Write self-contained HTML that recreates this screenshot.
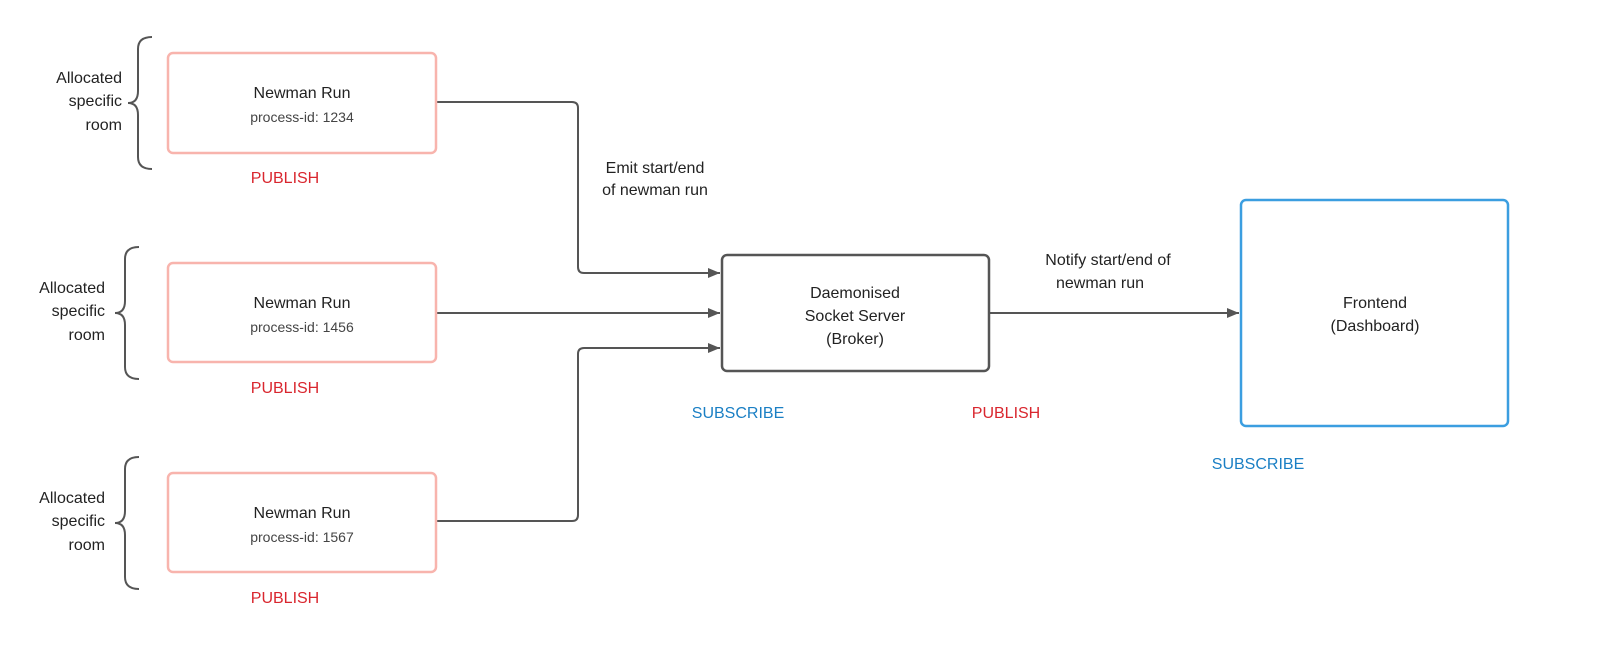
<!DOCTYPE html>
<html><head><style>
body{margin:0;background:#fff;}
svg text{font-family:"Liberation Sans",sans-serif;font-size:16px;fill:#222;}
</style></head><body>
<svg width="1600" height="654" xmlns="http://www.w3.org/2000/svg">
<defs><marker id="a" markerWidth="12" markerHeight="10" refX="12" refY="5" orient="auto" markerUnits="userSpaceOnUse"><path d="M0,0 L12,5 L0,10z" fill="#555"/></marker></defs>
<g fill="none" stroke="#555" stroke-width="2">
<path d="M152,37 q-14,0 -14,12 v42 q0,12 -10,12 q10,0 10,12 v42 q0,12 14,12"/>
<path d="M139,247 q-14,0 -14,12 v42 q0,12 -10,12 q10,0 10,12 v42 q0,12 14,12"/>
<path d="M139,457 q-14,0 -14,12 v42 q0,12 -10,12 q10,0 10,12 v42 q0,12 14,12"/>
<path d="M437,102 H572 q6,0 6,6 V267 q0,6 6,6 H720" marker-end="url(#a)"/>
<path d="M437,313 H720" marker-end="url(#a)"/>
<path d="M437,521 H572 q6,0 6,-6 V354 q0,-6 6,-6 H720" marker-end="url(#a)"/>
<path d="M990,313 H1239" marker-end="url(#a)"/>
</g>
<g fill="#fff" stroke="#f8b4ad" stroke-width="2.5">
<rect x="168" y="53" width="268" height="100" rx="5"/>
<rect x="168" y="263" width="268" height="99" rx="5"/>
<rect x="168" y="473" width="268" height="99" rx="5"/>
</g>
<rect x="722" y="255" width="267" height="116" rx="5" fill="#fff" stroke="#555" stroke-width="2.5"/>
<rect x="1241" y="200" width="267" height="226" rx="5" fill="#fff" stroke="#3b9ee0" stroke-width="2.5"/>
<g text-anchor="middle">
<text x="302" y="98">Newman Run</text><text x="302" y="122" style="font-size:14px;fill:#444">process-id: 1234</text>
<text x="302" y="308">Newman Run</text><text x="302" y="332" style="font-size:14px;fill:#444">process-id: 1456</text>
<text x="302" y="518">Newman Run</text><text x="302" y="542" style="font-size:14px;fill:#444">process-id: 1567</text>
<text x="855" y="298">Daemonised</text><text x="855" y="321">Socket Server</text><text x="855" y="344">(Broker)</text>
<text x="1375" y="308">Frontend</text><text x="1375" y="331">(Dashboard)</text>
<text x="285" y="183" style="fill:#d9262e">PUBLISH</text>
<text x="285" y="393" style="fill:#d9262e">PUBLISH</text>
<text x="285" y="603" style="fill:#d9262e">PUBLISH</text>
<text x="738" y="418" style="fill:#1a7fc4">SUBSCRIBE</text>
<text x="1006" y="418" style="fill:#d9262e">PUBLISH</text>
<text x="1258" y="469" style="fill:#1a7fc4">SUBSCRIBE</text>
<text x="655" y="173">Emit start/end</text><text x="655" y="195">of newman run</text>
<text x="1108" y="265">Notify start/end of</text><text x="1100" y="288">newman run</text>
</g>
<g text-anchor="end">
<text x="122" y="83">Allocated</text><text x="122" y="106">specific</text><text x="122" y="130">room</text>
<text x="105" y="293">Allocated</text><text x="105" y="316">specific</text><text x="105" y="340">room</text>
<text x="105" y="503">Allocated</text><text x="105" y="526">specific</text><text x="105" y="550">room</text>
</g>
</svg>
</body></html>
